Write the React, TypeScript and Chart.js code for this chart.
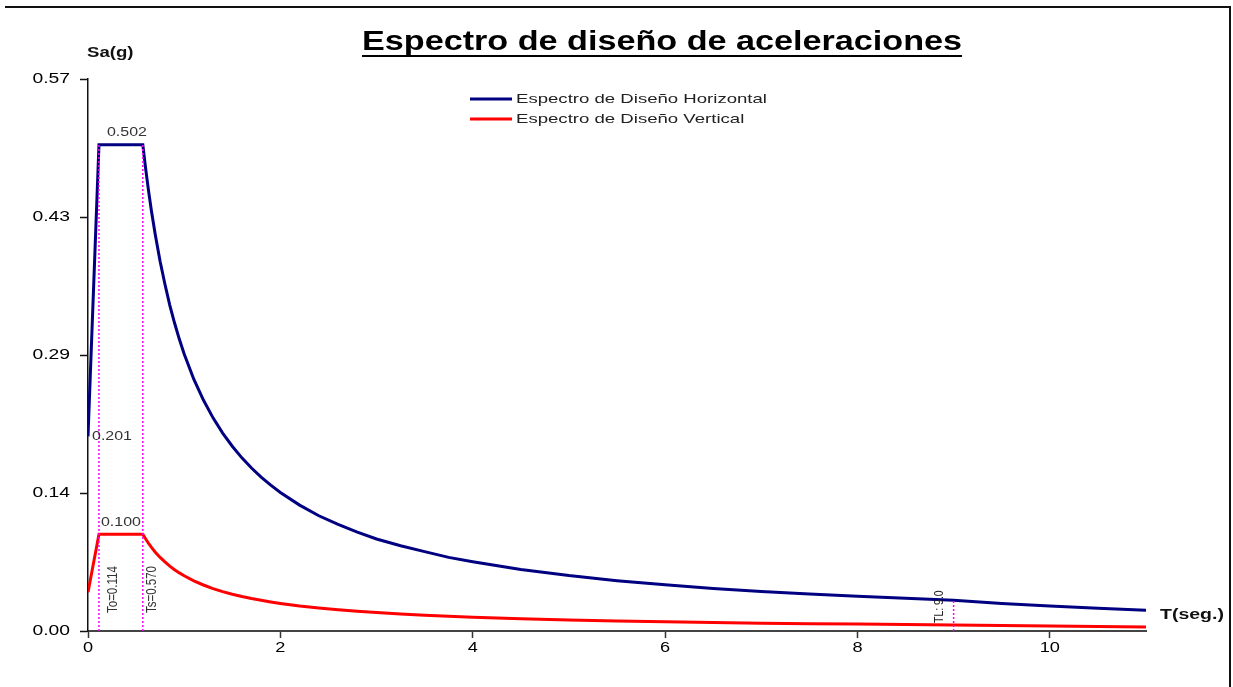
import React, { useEffect, useRef } from "react";
import { Chart, registerables } from "chart.js";

Chart.register(...registerables);

// ---- data ----
const PERIODS = [0, 0.114, 0.57, 0.6, 0.63, 0.66, 0.7, 0.75, 0.8, 0.85, 0.9, 0.95, 1.0, 1.1, 1.2, 1.3, 1.4, 1.5, 1.6, 1.7, 1.8, 1.9, 2.0, 2.2, 2.4, 2.6, 2.8, 3.0, 3.25, 3.5, 3.75, 4.0, 4.5, 5.0, 5.5, 6.0, 6.5, 7.0, 7.5, 8.0, 8.5, 9.0, 9.5, 10.0, 10.5, 11.0];
const SA_HORIZONTAL = [0.201, 0.502, 0.502, 0.477, 0.4542, 0.4335, 0.409, 0.3815, 0.358, 0.3366, 0.318, 0.3012, 0.286, 0.26, 0.2385, 0.2201, 0.2044, 0.1908, 0.1788, 0.1683, 0.159, 0.1506, 0.143, 0.13, 0.119, 0.11, 0.102, 0.095, 0.088, 0.082, 0.076, 0.0715, 0.0636, 0.0572, 0.052, 0.0477, 0.044, 0.0409, 0.0382, 0.0358, 0.0337, 0.0318, 0.0285, 0.0258, 0.0234, 0.0213];
const SA_VERTICAL = [0.04, 0.1, 0.1, 0.095, 0.0905, 0.0864, 0.0814, 0.076, 0.0713, 0.067, 0.0633, 0.06, 0.057, 0.0518, 0.0475, 0.0438, 0.0407, 0.038, 0.0356, 0.0335, 0.0317, 0.03, 0.0285, 0.0259, 0.0238, 0.0219, 0.0204, 0.019, 0.0175, 0.0163, 0.0152, 0.0143, 0.0127, 0.0114, 0.0104, 0.0095, 0.0088, 0.0081, 0.0076, 0.0071, 0.0067, 0.0063, 0.0057, 0.0051, 0.0046, 0.0042];

const T_O = 0.114;
const T_S = 0.57;
const T_L = 9.0;
const SA_PEAK_H = 0.502;
const SA_START_H = 0.201;
const SA_PEAK_V = 0.1;
const SA_AT_TL_H = 0.0318;

const Y_TICK_VALUES = [0, 0.1425, 0.285, 0.4275, 0.57];
const Y_TICK_LABELS = ["0.00", "0.14", "0.29", "0.43", "0.57"];
const X_TICK_VALUES = [0, 2, 4, 6, 8, 10];
const X_TICK_LABELS = ["0", "2", "4", "6", "8", "10"];

const TITLE = "Espectro de diseño de aceleraciones";
const LEGEND_LABELS = ["Espectro de Diseño Horizontal", "Espectro de Diseño Vertical"];
const Y_TITLE = "Sa(g)";
const X_TITLE = "T(seg.)";

const BLUE = "#000080";
const RED = "#ff0000";
const MAGENTA = "#ff00ff";
const FONT = '"Liberation Sans", Arial, sans-serif';

function stretchedText(
  ctx: CanvasRenderingContext2D,
  text: string,
  x: number,
  y: number,
  font: string,
  sx: number,
  align: "left" | "center" | "right",
  color: string
) {
  ctx.save();
  ctx.font = font;
  ctx.fillStyle = color;
  ctx.textBaseline = "middle";
  ctx.textAlign = "left";
  const w = ctx.measureText(text).width * sx;
  const left = align === "left" ? x : align === "right" ? x - w : x - w / 2;
  ctx.translate(left, y);
  ctx.scale(sx, 1);
  ctx.fillText(text, 0, 0);
  ctx.restore();
  return w;
}

function rotatedText(
  ctx: CanvasRenderingContext2D,
  text: string,
  cx: number,
  bottom: number,
  font: string,
  sx: number,
  color: string
) {
  ctx.save();
  ctx.font = font;
  ctx.fillStyle = color;
  ctx.textBaseline = "middle";
  ctx.textAlign = "left";
  ctx.translate(cx, bottom);
  ctx.scale(sx, 1);
  ctx.rotate(-Math.PI / 2);
  ctx.fillText(text, 0, 0);
  ctx.restore();
}

const decorPlugin = {
  id: "decor",
  afterDraw(chart: any) {
    const ctx: CanvasRenderingContext2D = chart.ctx;
    const xs = chart.scales.x;
    const ys = chart.scales.y;
    const area = chart.chartArea;

    // frame
    ctx.save();
    ctx.strokeStyle = "#111";
    ctx.lineWidth = 2;
    ctx.beginPath();
    ctx.moveTo(5, 7);
    ctx.lineTo(1230, 7);
    ctx.lineTo(1230, 687);
    ctx.stroke();
    ctx.restore();

    // title
    ctx.save();
    ctx.font = `bold 27px ${FONT}`;
    const tw = ctx.measureText(TITLE).width;
    ctx.restore();
    const tsx = 600 / tw;
    const titleW = stretchedText(ctx, TITLE, 662, 43, `bold 27px ${FONT}`, tsx, "center", "#000");
    ctx.save();
    ctx.fillStyle = "#000";
    ctx.fillRect(662 - titleW / 2, 55, titleW, 2);
    ctx.restore();

    // legend
    ctx.save();
    ctx.font = `13px ${FONT}`;
    const lw = ctx.measureText(LEGEND_LABELS[0]).width;
    ctx.restore();
    const lsx = 251 / lw;
    const legendColors = [BLUE, RED];
    LEGEND_LABELS.forEach((lab, i) => {
      const y = 99 + i * 20;
      ctx.save();
      ctx.strokeStyle = legendColors[i];
      ctx.lineWidth = 3;
      ctx.beginPath();
      ctx.moveTo(470, y);
      ctx.lineTo(512, y);
      ctx.stroke();
      ctx.restore();
      stretchedText(ctx, lab, 516, y, `13px ${FONT}`, lsx, "left", "#222");
    });

    // axis titles
    stretchedText(ctx, Y_TITLE, 87, 53, `bold 14px ${FONT}`, 1.33, "left", "#111");
    stretchedText(ctx, X_TITLE, 1160, 615, `bold 15px ${FONT}`, 1.3, "left", "#111");

    // tick labels
    const tickFont = `14px ${FONT}`;
    Y_TICK_VALUES.forEach((v, i) => {
      stretchedText(ctx, Y_TICK_LABELS[i], area.left - 18, ys.getPixelForValue(v), tickFont, 1.38, "right", "#000");
    });
    X_TICK_VALUES.forEach((v, i) => {
      stretchedText(ctx, X_TICK_LABELS[i], xs.getPixelForValue(v), area.bottom + 17, tickFont, 1.3, "center", "#000");
    });

    // point labels
    const smallFont = `12px ${FONT}`;
    stretchedText(ctx, SA_PEAK_H.toFixed(3), xs.getPixelForValue(T_O) + 8, ys.getPixelForValue(SA_PEAK_H) - 12, smallFont, 1.33, "left", "#333");
    stretchedText(ctx, SA_START_H.toFixed(3), xs.getPixelForValue(0) + 4, ys.getPixelForValue(SA_START_H), smallFont, 1.33, "left", "#333");
    stretchedText(ctx, SA_PEAK_V.toFixed(3), xs.getPixelForValue(T_O) + 2, ys.getPixelForValue(SA_PEAK_V) - 11, smallFont, 1.33, "left", "#333");

    // rotated period labels
    const bottom0 = ys.getPixelForValue(0);
    rotatedText(ctx, `To=${T_O.toFixed(3)}`, xs.getPixelForValue(T_O) + 14, bottom0 - 18, `11.5px ${FONT}`, 1.25, "#333");
    rotatedText(ctx, `Ts=${T_S.toFixed(3)}`, xs.getPixelForValue(T_S) + 9, bottom0 - 18, `11.5px ${FONT}`, 1.25, "#333");
    rotatedText(ctx, `TL: ${T_L.toFixed(1)}`, xs.getPixelForValue(T_L) - 14, bottom0 - 8, `10.5px ${FONT}`, 1.25, "#222");
  },
};

function points(xsArr: number[], ysArr: number[]) {
  return xsArr.map((x, i) => ({ x, y: ysArr[i] }));
}

export default function App() {
  const ref = useRef<HTMLCanvasElement>(null);

  useEffect(() => {
    if (!ref.current) return;
    const guide = (t: number, top: number) => ({
      label: "guide",
      data: [
        { x: t, y: 0 },
        { x: t, y: top },
      ],
      borderColor: MAGENTA,
      borderWidth: 1.5,
      borderDash: [2, 2],
      pointRadius: 0,
      fill: false,
    });
    const chart = new Chart(ref.current, {
      type: "line",
      data: {
        datasets: [
          guide(T_O, SA_PEAK_H),
          guide(T_S, SA_PEAK_H),
          guide(T_L, SA_AT_TL_H),
          {
            label: LEGEND_LABELS[0],
            data: points(PERIODS, SA_HORIZONTAL),
            borderColor: BLUE,
            borderWidth: 3,
            pointRadius: 0,
            tension: 0,
            fill: false,
          },
          {
            label: LEGEND_LABELS[1],
            data: points(PERIODS, SA_VERTICAL),
            borderColor: RED,
            borderWidth: 3,
            pointRadius: 0,
            tension: 0,
            fill: false,
          },
        ] as any,
      },
      options: {
        animation: false,
        responsive: false,
        devicePixelRatio: 1,
        layout: { padding: { left: 0, top: 79, right: 87, bottom: 26 } },
        plugins: {
          legend: { display: false },
          title: { display: false },
          tooltip: { enabled: false },
        },
        scales: {
          x: {
            type: "linear",
            min: 0,
            max: 11,
            afterBuildTicks: (s: any) => {
              s.ticks = X_TICK_VALUES.map((v) => ({ value: v }));
            },
            afterFit: (s: any) => {
              s.height = 30;
            },
            ticks: { color: "rgba(0,0,0,0)", font: { size: 14 } },
            grid: {
              display: true,
              drawOnChartArea: false,
              drawTicks: true,
              tickLength: 7,
              tickColor: "#333",
              tickWidth: 1.5,
            },
            border: { display: true, color: "#444", width: 2 },
          },
          y: {
            type: "linear",
            min: 0,
            max: 0.57,
            afterBuildTicks: (s: any) => {
              s.ticks = Y_TICK_VALUES.map((v) => ({ value: v }));
            },
            afterFit: (s: any) => {
              s.width = 88;
            },
            ticks: { color: "rgba(0,0,0,0)", font: { size: 14 } },
            grid: {
              display: true,
              drawOnChartArea: false,
              drawTicks: true,
              tickLength: 8,
              tickColor: "#111",
              tickWidth: 1.5,
            },
            border: { display: true, color: "#111", width: 1.5 },
          },
        },
      } as any,
      plugins: [decorPlugin],
    });
    return () => chart.destroy();
  }, []);

  return (
    <div style={{ position: "fixed", left: 0, top: 0, width: 1233, height: 687, background: "#fff" }}>
      <canvas ref={ref} width={1233} height={687} style={{ display: "block" }} />
    </div>
  );
}
